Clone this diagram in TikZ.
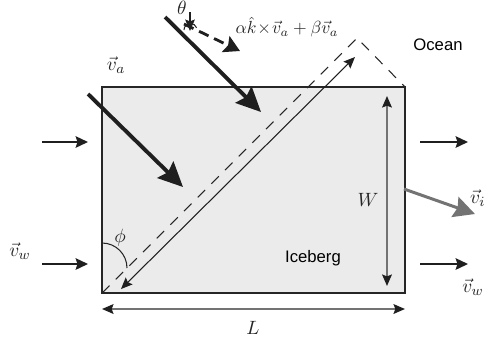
\documentclass[tikz,border=0pt]{standalone}
\usepackage{fontspec}
\newfontfamily\regionfont{Liberation Sans}
\usetikzlibrary{arrows.meta}

\tikzset{
  bigarrow/.style={line width=2.2pt, black!88, -{Stealth[length=14pt,width=13pt,inset=2pt]}},
  flowarrow/.style={line width=1.2pt, black!88, -{Stealth[length=7pt,width=6.5pt,inset=1pt]}},
  thinarrow/.style={line width=0.6pt, black!88, -{Stealth[length=6.5pt,width=5.5pt,inset=1pt]}},
  dimarrow/.style={line width=1.1pt, black!55,
    {Stealth[length=6.5pt,width=5.5pt,inset=1pt,color=black!88]}-{Stealth[length=6.5pt,width=5.5pt,inset=1pt,color=black!88]}},
  lbl/.style={text=black!85, inner sep=1pt, font=\fontsize{11}{13}\selectfont},
  region/.style={font=\regionfont\fontsize{9.5}{11}\selectfont, text=black, inner sep=1pt},
}

\begin{document}
\begin{tikzpicture}[x=0.02cm, y=-0.02cm]
  \useasboundingbox (0,0) rectangle (484,343);

  % Iceberg
  \coordinate (sw) at (102,293);
  \coordinate (ne) at (405,87);
  \coordinate (apex) at (357,38);
  \filldraw[fill=black!8, draw=black!85, line width=0.7pt] (sw) rectangle (ne);

  % Rotated outline and diagonal
  \draw[black!85, line width=0.6pt, dash pattern=on 6pt off 5pt] (sw) -- (apex) -- (ne);
  \draw[thinarrow, {Stealth[length=6.5pt,width=5.5pt,inset=1pt]}-{Stealth[length=6.5pt,width=5.5pt,inset=1pt]}]
    (121,289) -- (355,57);

  % Angle phi
  \draw[black!85, line width=0.6pt] (102,243) arc[start angle=-90, end angle=0, radius=25];
  \node[lbl] (phi) at (120,238) {$\phi$};

  % Wind
  \draw[bigarrow] (88,94) -- (183,187);
  \draw[bigarrow] (165,17) -- (261,112);
  \node[lbl] (va) at (116,65) {$\vec{v}_a$};

  % Deflected drift and angle theta
  \draw[thinarrow] (190,12) -- (190,31);
  \draw[black!85, line width=0.6pt] (184,30) arc[start angle=180, end angle=340, radius=6.5];
  \draw[line width=1.6pt, black!88, dash pattern=on 6pt off 3.5pt,
    -{Stealth[length=9pt,width=10pt,inset=1.5pt]}] (184,24) -- (240,51);
  \node[lbl] (theta) at (182,8) {$\theta$};
  \node[lbl, font=\normalsize] (drift) at (287,27) {$\alpha\hat{k}\!\times\!\vec{v}_a+\beta\vec{v}_a$};

  % Current
  \foreach \y in {142,264}{
    \draw[flowarrow] (42,\y) -- (88,\y);
    \draw[flowarrow] (420,\y) -- (468,\y);
  }
  \node[lbl] (vwl) at (20,251) {$\vec{v}_w$};
  \node[lbl] (vwr) at (473,287) {$\vec{v}_w$};

  % Iceberg velocity
  \draw[line width=1.7pt, black!55, -{Stealth[length=12pt,width=12pt,inset=1.5pt]}] (404,189) -- (475,214);
  \node[lbl, anchor=west] (vi) at (468,198) {$\vec{v}_i$};

  % Dimensions
  \draw[dimarrow] (387,96) -- (387,286);
  \draw[dimarrow] (102,309) -- (405,309);
  \node[lbl] (W) at (368,200) {$W$};
  \node[lbl] (L) at (253,328) {$L$};

  % Regions
  \node[region] (ocean) at (438,45) {Ocean};
  \node[region] (iceberg) at (313,258) {Iceberg};
\end{tikzpicture}
\end{document}
